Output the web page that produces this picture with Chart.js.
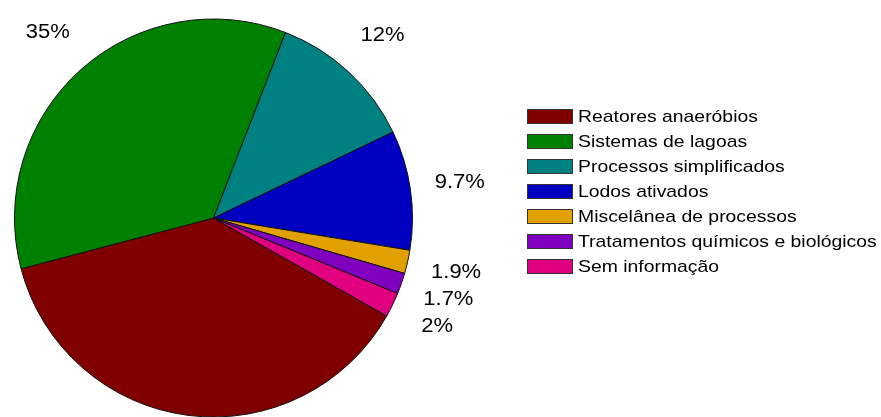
<!DOCTYPE html>
<html>
<head>
<meta charset="utf-8">
<script src="https://cdn.jsdelivr.net/npm/chart.js@4/dist/chart.umd.min.js"></script>
<style>
    html, body { margin: 0; padding: 0; background: #fff; overflow: hidden; }
    #wrap { width: 881px; height: 417px; overflow: hidden; }
</style>
</head>
<body>
<div id="wrap"><canvas id="pieChart" width="881" height="436"></canvas></div>
<script>
const categories = [
    "Reatores anaeróbios",
    "Sistemas de lagoas",
    "Processos simplificados",
    "Lodos ativados",
    "Miscelânea de processos",
    "Tratamentos químicos e biológicos",
    "Sem informação"
];
const shares = [37.7, 35, 12, 9.7, 1.9, 1.7, 2];
const shareLabels = ["37.7%", "35%", "12%", "9.7%", "1.9%", "1.7%", "2%"];
const sliceColors = ["#800000", "#008000", "#008080", "#0000c0", "#e0a000", "#8000c0", "#e0007f"];

/* ===================== TEXT HELPER ===================== */
// the fonts here are a bit wider than plain Arial, so stretch horizontally
function wideText(ctx, text, x, y, size, stretch, align) {
    ctx.save();
    ctx.font = size + "px 'Liberation Sans', Arial, sans-serif";
    ctx.fillStyle = "#000";
    ctx.textBaseline = "middle";
    ctx.textAlign = align;
    ctx.translate(x, y);
    ctx.scale(stretch, 1);
    ctx.fillText(text, 0, 0);
    ctx.restore();
}

/* ===================== PERCENT LABELS ===================== */
const percentLabels = {
    id: "percentLabels",
    afterDatasetsDraw(chart) {
        const ctx = chart.ctx;
        chart.getDatasetMeta(0).data.forEach((arc, i) => {
            const p = arc.getProps(["x", "y", "startAngle", "endAngle", "outerRadius"], true);
            const mid = (p.startAngle + p.endAngle) / 2;
            const r = p.outerRadius * 1.25;
            wideText(ctx, shareLabels[i], p.x + Math.cos(mid) * r, p.y + Math.sin(mid) * r, 20, 1.1, "center");
        });
    }
};

/* ===================== LEGEND ===================== */
const sideLegend = {
    id: "sideLegend",
    afterDraw(chart) {
        const ctx = chart.ctx;
        const boxX = 527, boxW = 46, boxH = 15, top = 109, rowH = 25;
        categories.forEach((name, i) => {
            const y = top + i * rowH;
            ctx.save();
            ctx.fillStyle = sliceColors[i];
            ctx.fillRect(boxX, y, boxW, boxH);
            ctx.strokeStyle = "#333";
            ctx.lineWidth = 1;
            ctx.strokeRect(boxX + 0.5, y + 0.5, boxW - 1, boxH - 1);
            ctx.restore();
            wideText(ctx, name, 578, y + boxH / 2 + 0.5, 17, 1.14, "left");
        });
    }
};

new Chart(document.getElementById("pieChart"), {
    type: "pie",
    data: {
        labels: categories,
        datasets: [{
            data: shares,
            backgroundColor: sliceColors,
            borderColor: "#111",
            borderWidth: 1
        }]
    },
    options: {
        responsive: false,
        animation: false,
        rotation: 119.5,
        layout: { padding: { left: 14, top: 18, right: 468, bottom: 18 } },
        plugins: {
            legend: { display: false },
            tooltip: { enabled: false }
        }
    },
    plugins: [percentLabels, sideLegend]
});
</script>
</body>
</html>
